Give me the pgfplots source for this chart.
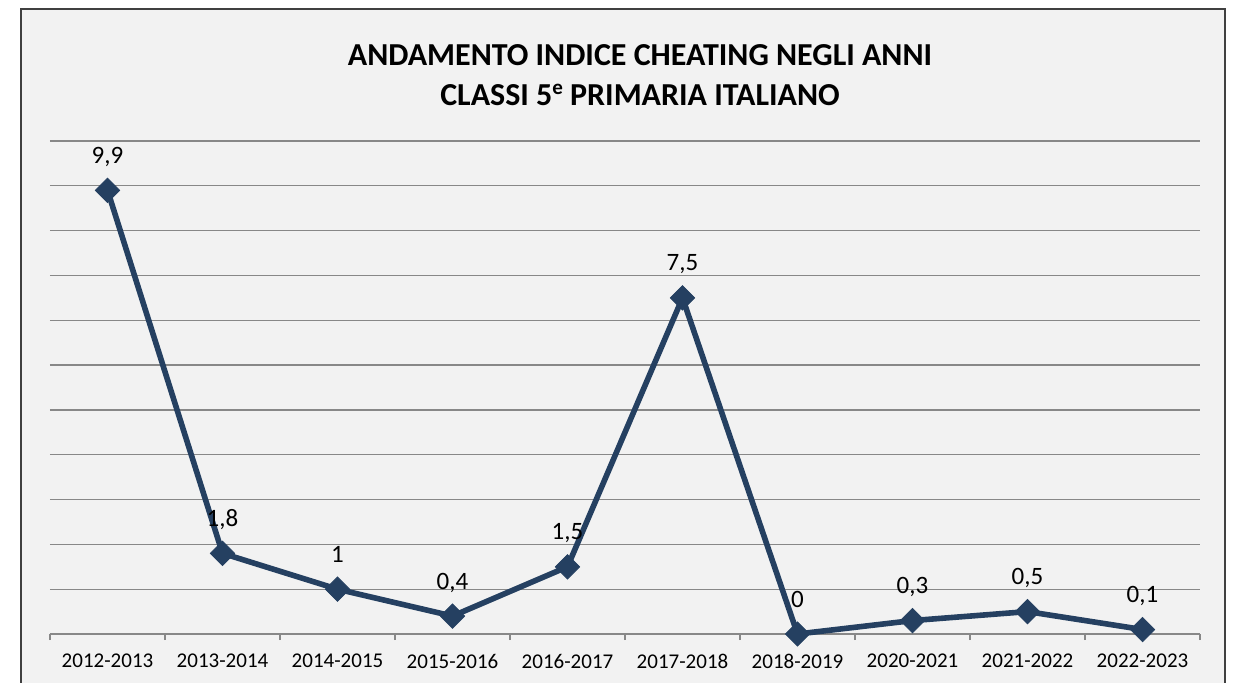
\documentclass[border=0pt]{standalone}
\usepackage{pgfplots}
\pgfplotsset{compat=1.18}
\usepackage{fontspec}
\setmainfont{Carlito}
\definecolor{bgc}{HTML}{F2F2F2}
\definecolor{bordc}{HTML}{404040}
\definecolor{gridc}{HTML}{888888}
\definecolor{linec}{HTML}{254061}
\begin{document}
\begin{tikzpicture}[x=1pt,y=1pt]
\path[use as bounding box] (0,0) rectangle (618,341);
\fill[white] (0,0) rectangle (618,341);
\filldraw[fill=bgc, draw=bordc, line width=1pt] (10.5,336.5) rectangle (612.5,-10);
\node[align=center, font=\bfseries\fontsize{16}{20}\selectfont] at (320,303.5)
  {ANDAMENTO INDICE CHEATING NEGLI ANNI\\CLASSI 5\raisebox{5.3pt}{\fontsize{10.5}{10}\selectfont e} PRIMARIA ITALIANO};
\begin{axis}[
  at={(25pt,24pt)}, anchor=south west,
  scale only axis, width=575pt, height=246.5pt,
  xmin=-0.5, xmax=9.5, ymin=0, ymax=11,
  axis x line*=bottom, axis y line*=left,
  y axis line style={draw=none},
  x axis line style={draw=gridc, line width=0.6pt},
  ytick={0,1,...,11}, yticklabels={}, ytick style={draw=none},
  ymajorgrids, grid style={draw=gridc, line width=0.6pt},
  xtick={0,...,9},
  xticklabels={2012-2013,2013-2014,2014-2015,2015-2016,2016-2017,2017-2018,2018-2019,2020-2021,2021-2022,2022-2023},
  major x tick style={draw=none},
  minor xtick={-0.5,0.5,...,9.5},
  minor x tick style={draw=gridc, line width=0.6pt},
  minor tick length=3pt, tick align=outside,
  xticklabel style={font=\fontsize{10.5}{12}\selectfont, inner sep=0pt, anchor=north, yshift=-5.5pt},
  clip=false,
  nodes near coords,
  every node near coord/.append style={font=\fontsize{12.5}{14}\selectfont, anchor=base, inner sep=0pt, yshift=13.5pt, text=black},
  /pgf/number format/.cd, use comma, assume math mode=true,
]
\addplot[color=linec, line width=2.8pt, mark=square*, mark size=4.3pt,
  mark options={rotate=45, solid, fill=linec, line width=0.4pt}]
  coordinates {(0,9.9) (1,1.8) (2,1) (3,0.4) (4,1.5) (5,7.5) (6,0) (7,0.3) (8,0.5) (9,0.1)};
\end{axis}
\end{tikzpicture}
\end{document}
